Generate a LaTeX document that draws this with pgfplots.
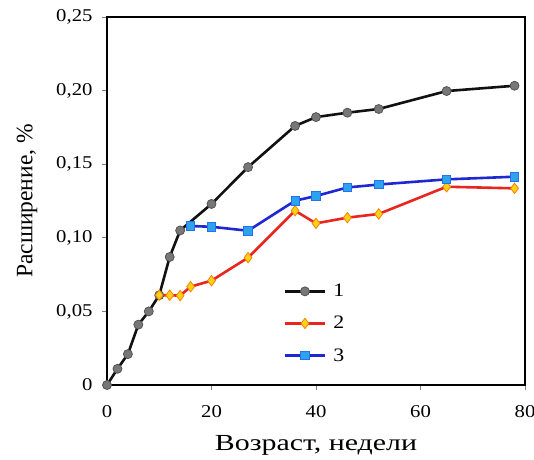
\documentclass[border=0pt]{standalone}
\usepackage{pgfplots}
\pgfplotsset{compat=1.18}
\usepackage{fontspec}
\setmainfont{Liberation Serif}
\newfontfamily\wideA[FakeStretch=1.15]{Liberation Serif}
\newfontfamily\wideB[FakeStretch=1.3]{Liberation Serif}
\definecolor{c1line}{HTML}{111111}
\definecolor{c1fill}{HTML}{777777}
\definecolor{c2line}{HTML}{E8251E}
\definecolor{c2fill}{HTML}{F7D21A}
\definecolor{c3line}{HTML}{1F28D0}
\definecolor{c3fill}{HTML}{2FA2EC}
\begin{document}
\begin{tikzpicture}
\begin{axis}[
  name=ax,
  scale only axis,
  width=418pt, height=368pt,
  xmin=0, xmax=80, ymin=0, ymax=0.25,
  xtick={0,20,40,60,80},
  ytick={0,0.05,0.10,0.15,0.20,0.25},
  yticklabels={0,{0,05},{0,10},{0,15},{0,20},{0,25}},
  /pgf/number format/assume math mode=true,
  tick pos=left,
  tick align=outside,
  major tick length=5pt,
  tick style={gray, line width=0.8pt},
  axis line style={line width=1.8pt},
  ticklabel style={font=\wideA\fontsize{18}{20}\selectfont},
  xticklabel style={yshift=-12pt},
  yticklabel style={xshift=-6pt},
  xlabel={Возраст, недели},
  ylabel={Расширение, \%},
  xlabel style={font=\wideB\fontsize{23}{26}\selectfont, yshift=-11pt},
  ylabel style={font=\fontsize{23.5}{26}\selectfont, yshift=12pt},
  legend style={draw=none, fill=none, at={(0.415,0.285)}, anchor=north west,
    font=\wideA\fontsize{19}{21}\selectfont, row sep=14pt,
    nodes={inner xsep=7pt}},
  legend cell align=left,
  legend image code/.code={\draw[mark repeat=2,mark phase=2] plot coordinates {(0pt,0pt) (20pt,0pt) (40pt,0pt)};},
  every axis plot/.append style={line width=2.6pt},
]
\addplot[c1line, mark=*, mark size=4.5pt, mark options={fill=c1fill, draw=c1fill!70!black, line width=0.8pt}]
coordinates {(0,0) (2,0.011) (4,0.021) (6,0.041) (8,0.050) (10,0.061) (12,0.087) (14,0.105) (20,0.123) (27,0.148) (36,0.176) (40,0.182) (46,0.185) (52,0.1875) (65,0.1997) (78,0.2033)};
\addlegendentry{1}
\addplot[c2line, mark=diamond*, mark size=5.2pt, mark options={fill=c2fill, draw=orange, line width=0.8pt}]
coordinates {(10,0.061) (12,0.061) (14,0.0607) (16,0.0668) (20,0.0709) (27,0.0865) (36,0.1184) (40,0.1098) (46,0.1137) (52,0.1162) (65,0.1347) (78,0.1336)};
\addlegendentry{2}
\addplot[c3line, mark=square*, mark size=4.2pt, mark options={fill=c3fill, draw=c3fill!70!blue, line width=0.8pt}]
coordinates {(16,0.108) (20,0.1075) (27,0.1048) (36,0.1252) (40,0.1284) (46,0.1342) (52,0.1362) (65,0.1397) (78,0.1415)};
\addlegendentry{3}
\end{axis}
\pgfresetboundingbox
\path ([shift={(-107pt,-74pt)}]ax.south west) rectangle ([shift={(9pt,17pt)}]ax.north east);
\end{tikzpicture}
\end{document}
